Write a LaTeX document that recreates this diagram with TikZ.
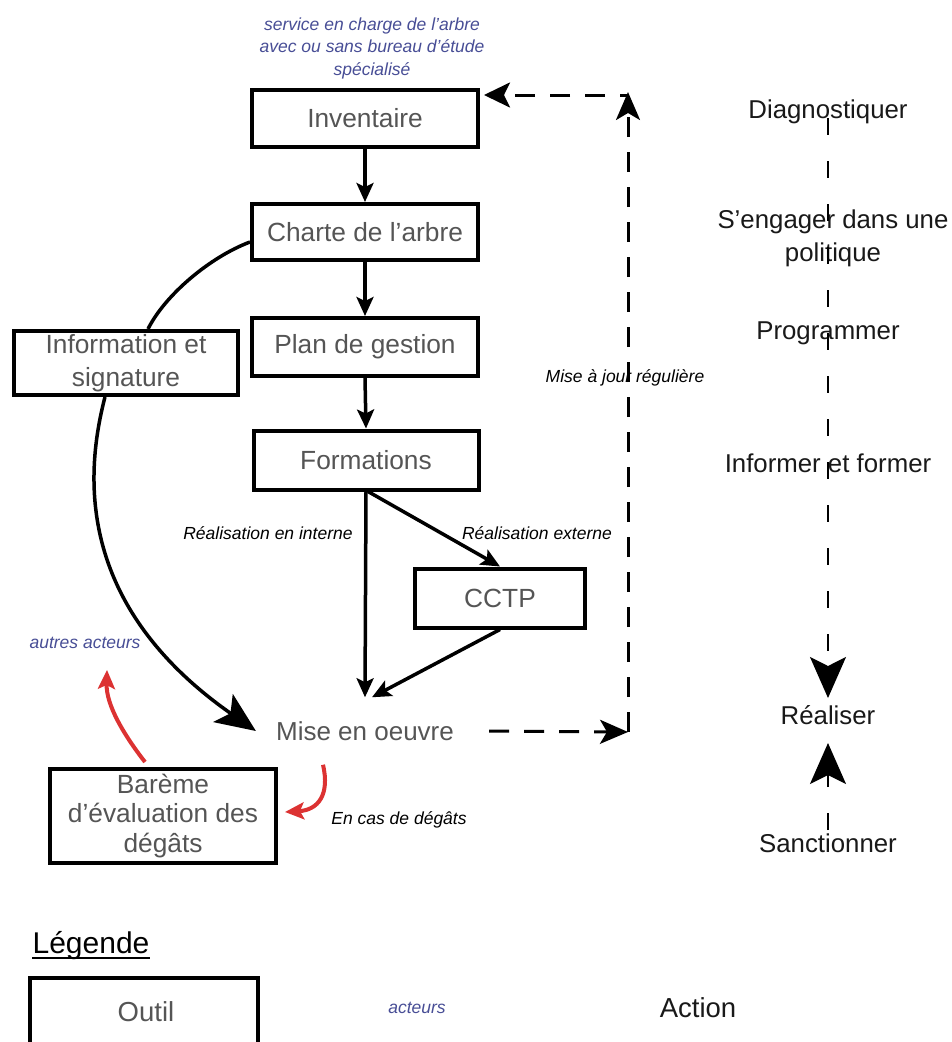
\documentclass[tikz,border=0pt]{standalone}
\usepackage{fontspec}
\setmainfont{Liberation Sans}
\usetikzlibrary{arrows.meta,calc}
\definecolor{txtgray}{RGB}{85,85,85}
\definecolor{actblue}{RGB}{72,78,150}
\definecolor{dred}{RGB}{220,50,50}
\definecolor{actblack}{RGB}{25,25,25}
\begin{document}
\begin{tikzpicture}[x=1pt,y=-1pt,
  tool/.style={draw=black,line width=4pt,fill=white,text=txtgray,
    font=\fontsize{26.3}{31}\selectfont,align=center,inner sep=0pt},
  action/.style={text=actblack,font=\fontsize{25.8}{33}\selectfont,align=center,inner sep=2pt},
  note/.style={text=black,font=\fontsize{17.5}{22}\selectfont\itshape,inner sep=1pt},
  actor/.style={text=actblue,font=\fontsize{17.5}{22.5}\selectfont\itshape,align=center,inner sep=1pt},
  solidarrow/.style={line width=3.5pt,-{Stealth[length=19pt,width=17pt,inset=4pt]}},
  curveline/.style={line width=3.5pt},
  bigarrow/.style={line width=3.5pt,-{Stealth[length=40pt,width=34pt,inset=9pt]}},
  redarrow/.style={draw=dred,line width=4pt,-{Stealth[length=19pt,width=17pt,inset=4pt]}},
  dashloop/.style={line width=3pt,dash pattern=on 20pt off 15pt},
  dasharrow/.style={dashloop,-{Stealth[length=28pt,width=24pt,inset=7pt]}},
  actline/.style={line width=1.6pt,dash pattern=on 17pt off 26pt,-{Stealth[length=41pt,width=36pt,inset=9pt]}}]
\clip (0,0) rectangle (951,1042);
\fill[white] (0,0) rectangle (951,1042);

% top actor text
\node[actor] (topact) at (372,48) {service en charge de l’arbre\\avec ou sans bureau d’étude\\spécialisé};

% main boxes
\node[tool,minimum width=226pt,minimum height=57pt] (inv) at (365,118) {Inventaire};
\node[tool,minimum width=226pt,minimum height=56pt] (charte) at (365,232) {Charte de l’arbre};
\node[tool,minimum width=226pt,minimum height=58pt] (plan) at (365,347) {Plan de gestion};
\node[tool,minimum width=225pt,minimum height=59pt] (form) at (366,460) {Formations};
\node[tool,minimum width=224pt,minimum height=64pt,font=\fontsize{26.3}{33}\selectfont] (info) at (126,363) {Information et\\signature};
\node[tool,minimum width=170pt,minimum height=59pt] (cctp) at (500,598) {CCTP};
\node[tool,minimum width=226pt,minimum height=94pt,font=\fontsize{26.3}{29.5}\selectfont] (bareme) at (163,816) {\raisebox{-3pt}{\parbox{220pt}{\centering Barème\\d’évaluation des\\dégâts}}};

\node[text=txtgray,font=\fontsize{26}{31}\selectfont,inner xsep=20pt,inner ysep=24pt] (mise) at (365,731) {Mise en oeuvre};

% labels
\node[note] (lint) at (268,533) {Réalisation en interne};
\node[note] (lext) at (537,533) {Réalisation externe};
\node[note] (lmaj) at (625,378) {Mise à jour régulière};
\node[note] (ldeg) at (399,820) {En cas de dégâts};
\node[actor] (autres) at (85,643) {autres acteurs};

% right column actions
\node[action] (a1) at (828,112) {Diagnostiquer};
\node[action] (a2) at (833,238) {S’engager dans une\\politique};
\node[action] (a3) at (828,333) {Programmer};
\node[action] (a4) at (828,463) {Informer et former};
\node[action] (a5) at (828,715) {Réaliser};
\node[action] (a6) at (828,843) {Sanctionner};

% solid arrows
\draw[solidarrow] (inv.south) -- (charte.north);
\draw[solidarrow] (charte.south) -- (plan.north);
\draw[solidarrow] (plan.south) -- (form.north);
\draw[solidarrow] (form.south) -- (mise.north);
\draw[solidarrow] ($(form.south)+(2,0)$) -- (cctp.north);
\draw[solidarrow] (cctp.south) -- ($(mise.north)+(7,0)$);

% curves via information
\draw[curveline] ($(charte.west)+(0,10)$) .. controls (210,257) and (165,295) .. ($(info.north)+(22,0)$);
\draw[bigarrow] ($(info.south)+(-21,0)$) .. controls (65,550) and (140,650) .. (mise.west);

% red arrows
\draw[redarrow] ($(bareme.north)+(-18,-5)$) .. controls (124,735) and (106,705) .. ($(autres.south)+(22,20)$);
\draw[redarrow] ($(mise.south)+(-42,0)$) .. controls (330,795) and (318,810) .. ($(bareme.east)+(7,-4)$);

% dashed update loop
\coordinate (cr) at (628,732);
\coordinate (ct) at (628,92);
\draw[dasharrow,shorten <=15pt] (mise.east) -- (cr);
\draw[dasharrow] (cr) -- (ct);
\draw[dashloop,dash phase=12pt,-{Stealth[length=26pt,width=25pt,inset=6pt]}] ($(ct)+(0,3)$) -- ($(inv.east |- ct)+(4,3)$);

% right column arrows
\draw[actline] ($(a1.center)+(0,6)$) -- ($(a5.center)+(0,-17)$);
\draw[actline,dash phase=0pt] ($(a6.center)+(0,-13)$) -- ($(a5.center)+(0,28)$);

% legend
\node[anchor=base,inner sep=0pt,text=black,font=\fontsize{30}{34}\selectfont] (leg) at (91,953) {Légende};
\draw[line width=2pt] ($(leg.base west)+(0,5)$) -- ($(leg.base east)+(0,5)$);
\draw[line width=4pt,fill=white] (258,1060) -- (258,978) -- (30,978) -- (30,1060);
\node[text=txtgray,font=\fontsize{27.5}{31}\selectfont,inner sep=1pt] (outil) at (146,1012) {Outil};
\node[actor] (lact) at (417,1008) {acteurs};
\node[action,font=\fontsize{27.5}{31}\selectfont] (laction) at (698,1008) {Action};
\end{tikzpicture}
\end{document}
